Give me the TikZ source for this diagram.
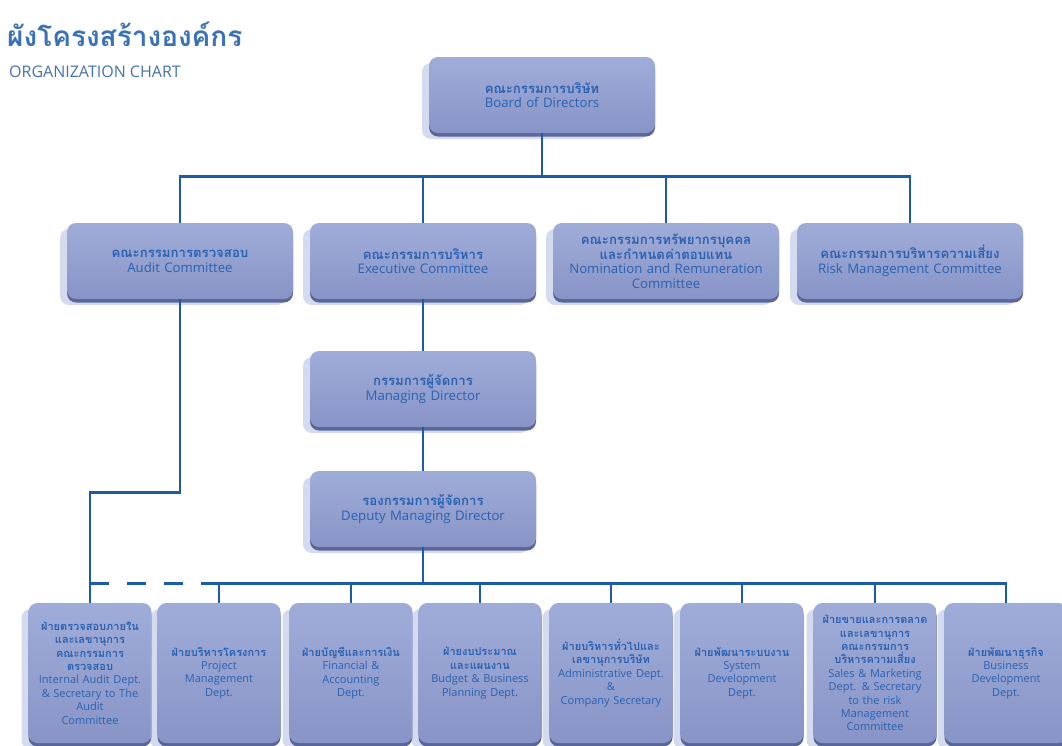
\documentclass[tikz,border=0pt]{standalone}
\usepackage{fontspec}
\setmainfont{Open Sans}
\newfontfamily\thaifont[Script=Thai]{Loma}
\usepackage{xcolor}
\usepackage{tikz}
\usetikzlibrary{shadows}
\usetikzlibrary{positioning}

\definecolor{chartblue}{HTML}{1C5BA8}
\definecolor{labelblue}{HTML}{2A62B2}
\definecolor{titleblue}{HTML}{3A72B8}
\definecolor{boxfill}{HTML}{8894C6}
\definecolor{boxtop}{HTML}{A0ACD8}
\definecolor{boxrim}{HTML}{5A6699}
\definecolor{haze}{HTML}{B4BEE3}

\tikzset{
	orgbox/.style={rounded corners=9pt, align=center, text=labelblue, inner sep=2pt,
		top color=boxtop, bottom color=boxfill,
		general shadow={shadow xshift=-7pt, shadow yshift=-6pt, fill=haze, opacity=.55},
		general shadow={shadow xshift=0pt, shadow yshift=-3.5pt, fill=boxrim}},
	board/.style={orgbox, minimum width=226pt, minimum height=76pt, text width=222pt,
		font=\fontsize{13.2}{14.5}\selectfont},
	dept/.style={orgbox, minimum width=123pt, minimum height=140pt, text width=117pt,
		font=\fontsize{11}{13.4}\selectfont},
	link/.style={draw=chartblue, line width=2.6pt},
}

\begin{document}
\begin{tikzpicture}[x=1pt, y=-1pt]
	\useasboundingbox[fill=white] (0,0) rectangle (1062,745);

	\node[anchor=north west, inner sep=0pt, text=titleblue, font=\thaifont\bfseries\fontsize{28}{30}\selectfont] (title) at (7,22) {ผังโครงสร้างองค์กร};
	\node[anchor=north west, inner sep=0pt, text=titleblue!85!gray, font=\fontsize{16}{18}\selectfont] (subtitle) at (9,66) {ORGANIZATION CHART};

	\node[board] (directors) at (542,95) {{\thaifont\bfseries คณะกรรมการบริษัท}\\Board of Directors};

	\node[board] (audit) at (180,261) {{\thaifont\bfseries คณะกรรมการตรวจสอบ}\\Audit Committee};
	\node[board] (exec) at (423,261) {{\thaifont\bfseries คณะกรรมการบริหาร}\\Executive Committee};
	\node[board] (nomin) at (666,261) {{\thaifont\bfseries คณะกรรมการทรัพยากรบุคคล\\และกำหนดค่าตอบแทน}\\Nomination and Remuneration\\Committee};
	\node[board] (risk) at (910,261) {{\thaifont\bfseries คณะกรรมการบริหารความเสี่ยง}\\Risk Management Committee};

	\node[board] (md) at (423,389) {{\thaifont\bfseries กรรมการผู้จัดการ}\\Managing Director};
	\node[board] (dmd) at (423,509) {{\thaifont\bfseries รองกรรมการผู้จัดการ}\\Deputy Managing Director};

	\node[dept] (intaudit) at (90,673) {{\thaifont\bfseries ฝ่ายตรวจสอบภายใน\\และเลขานุการ\\คณะกรรมการ\\ตรวจสอบ}\\Internal Audit Dept.\\\& Secretary to The\\Audit\\Committee};
	\node[dept] (proj) at (219,673) {{\thaifont\bfseries ฝ่ายบริหารโครงการ}\\Project\\Management\\Dept.};
	\node[dept] (fin) at (351,673) {{\thaifont\bfseries ฝ่ายบัญชีและการเงิน}\\Financial \&\\Accounting\\Dept.};
	\node[dept] (budget) at (480,673) {{\thaifont\bfseries ฝ่ายงบประมาณ\\และแผนงาน}\\Budget \& Business\\Planning Dept.};
	\node[dept] (admin) at (611,673) {{\thaifont\bfseries ฝ่ายบริหารทั่วไปและ\\เลขานุการบริษัท}\\Administrative Dept.\\\&\\Company Secretary};
	\node[dept] (sysdev) at (742,673) {{\thaifont\bfseries ฝ่ายพัฒนาระบบงาน}\\System\\Development\\Dept.};
	\node[dept] (sales) at (875,673) {{\thaifont\bfseries ฝ่ายขายและการตลาด\\และเลขานุการ\\คณะกรรมการ\\บริหารความเสี่ยง}\\Sales \& Marketing\\Dept. \& Secretary\\to the risk\\Management\\Committee};
	\node[dept] (busdev) at (1006,673) {{\thaifont\bfseries ฝ่ายพัฒนาธุรกิจ}\\Business\\Development\\Dept.};

	\draw[link] (directors.south) -- ++(0,43) coordinate (topbus);
	\foreach \c in {audit,exec,nomin,risk}
		\draw[link] (topbus) -| (\c.north);
	\draw[link] (exec) -- (md);
	\draw[link] (md) -- (dmd);
	\draw[link] (dmd.south) -- ++(0,36) coordinate (lowbus);
	\foreach \d in {proj,fin,budget,admin,sysdev,sales,busdev}
		\draw[link] (lowbus) -| (\d.north);
	\draw[link] (audit.south) -- ++(0,193) -| (intaudit.north);
	\draw[link, dash pattern=on 19pt off 18pt] (intaudit.north |- lowbus) -- (proj.north |- lowbus);
\end{tikzpicture}
\end{document}
